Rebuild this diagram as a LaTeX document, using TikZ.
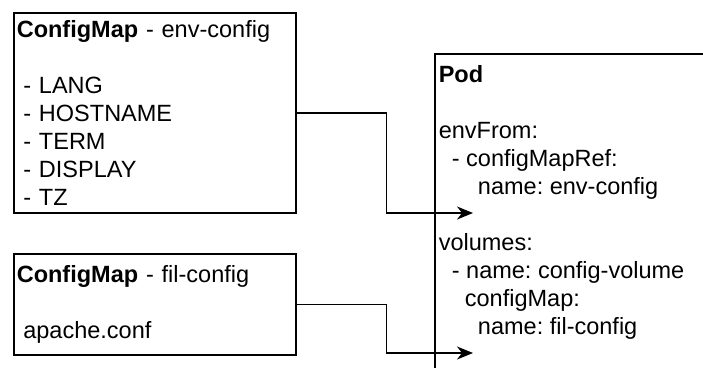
\documentclass[tikz,border=0pt]{standalone}
\usepackage{fontspec}
\setmainfont{Liberation Sans}
\usetikzlibrary{arrows.meta,positioning}

% indent by n blanks of the diagram font
\newcommand{\ind}[1]{\hspace*{#1\fontdimen2\font}}
\frenchspacing

\begin{document}
\begin{tikzpicture}[x=1pt, y=-1pt, >={Stealth[length=16pt,width=13pt,inset=5pt]},
  line width=1.6pt,
  every node/.style={font=\fontsize{23.5}{28}\selectfont},
  box/.style={draw, inner xsep=3pt, inner ysep=0pt, align=left},
  link/.style={->}]
        \useasboundingbox (0,0) rectangle (703,367);
        \clip (0,0) rectangle (703,367);
        \node [box, anchor=north west, text width=276pt, minimum height=200pt] (env) at (13,12)
          {\textbf{ConfigMap} - env-config\\ \mbox{}\\
           \ind{1}- LANG\\ \ind{1}- HOSTNAME\\ \ind{1}- TERM\\ \ind{1}- DISPLAY\\ \ind{1}- TZ};
        \node [box, anchor=north west, text width=276pt, minimum height=101pt] (fil) at (13,253)
          {\textbf{ConfigMap} - fil-config\\ \mbox{}\\ \ind{1}apache.conf};
        \node [box, anchor=north west, minimum width=320pt, minimum height=340pt] (pod) at (434,53) {};
        \node [anchor=north west, align=left, inner sep=0pt] (podtext) at ([xshift=4pt, yshift=-12pt]pod.north west)
          {\textbf{Pod}\\ \mbox{}\\ envFrom:\\ \ind{2}- configMapRef:\\ \ind{6}name: env-config\\ \mbox{}\\
           volumes:\\ \ind{2}- name: config-volume\\ \ind{4}configMap:\\ \ind{6}name: fil-config};
        \coordinate (envin) at (473,213);
        \coordinate (filin) at (473,353);
        \draw [link] (env.east) -- ++(90,0) |- (envin);
        \draw [link] (fil.east) -- ++(90,0) |- (filin);
\end{tikzpicture}
\end{document}
